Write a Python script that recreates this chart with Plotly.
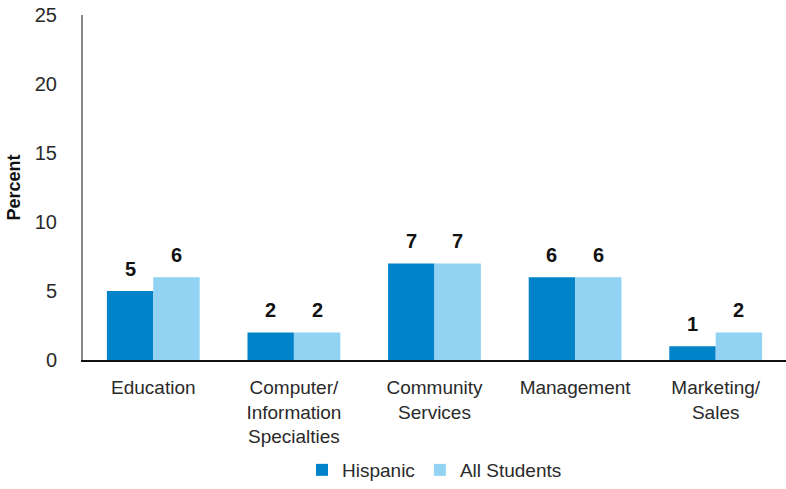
import plotly.graph_objects as go

categories = ["Education", "Computer/<br>Information<br>Specialties", "Community<br>Services",
              "Management", "Marketing/<br>Sales"]
hispanic = [5, 2, 7, 6, 1]
all_students = [6, 2, 7, 6, 2]
y_ticks = [0, 5, 10, 15, 20, 25]

FONT = "Liberation Sans, Arial, sans-serif"
BAR_GAP = 0.34
PLOT_W = 786 - 83

fig = go.Figure()
fig.add_trace(go.Bar(name="Hispanic", x=categories, y=hispanic,
                     marker_color="#0083C9", marker_line_width=0))
fig.add_trace(go.Bar(name="All Students", x=categories, y=all_students,
                     marker_color="#92D2F3", marker_line_width=0))

# value labels above each bar, offset to the bar's slot in its group
half_bar = PLOT_W / len(categories) * (1 - BAR_GAP) / 4
for series, shift in ((hispanic, -half_bar), (all_students, half_bar)):
    for cat, val in zip(categories, series):
        fig.add_annotation(x=cat, y=val, text=f"<b>{val}</b>", showarrow=False,
                           xshift=shift, yshift=9, yanchor="bottom",
                           font=dict(size=20, color="#111111", family=FONT))

fig.update_layout(
    width=786, height=489,
    margin=dict(l=83, r=0, t=15, b=129),
    paper_bgcolor="white", plot_bgcolor="white",
    barmode="group", bargap=BAR_GAP, bargroupgap=0,
    font=dict(family=FONT, size=19, color="#2a2a2a"),
    showlegend=True,
    legend=dict(orientation="h", x=0.5, xanchor="center", xref="paper",
                y=-0.018, yanchor="bottom", yref="container",
                font=dict(size=19, color="#2a2a2a"), itemwidth=30,
                traceorder="normal"),
)
fig.update_xaxes(
    showline=True, linecolor="#111111", linewidth=2, showgrid=False,
    ticks="", tickfont=dict(size=19, color="#2a2a2a"), automargin=False,
    ticklabelstandoff=9,
)
fig.update_yaxes(
    range=[0, 25], tickvals=y_ticks, showline=True, linecolor="#888888", linewidth=2,
    showgrid=False, zeroline=False, ticks="", ticklabelstandoff=20, automargin=False,
    tickfont=dict(size=20, color="#2a2a2a"),
    title=dict(text="<b>Percent</b>", font=dict(size=18, color="#111111"), standoff=9),
)

fig.write_html("out.html")
